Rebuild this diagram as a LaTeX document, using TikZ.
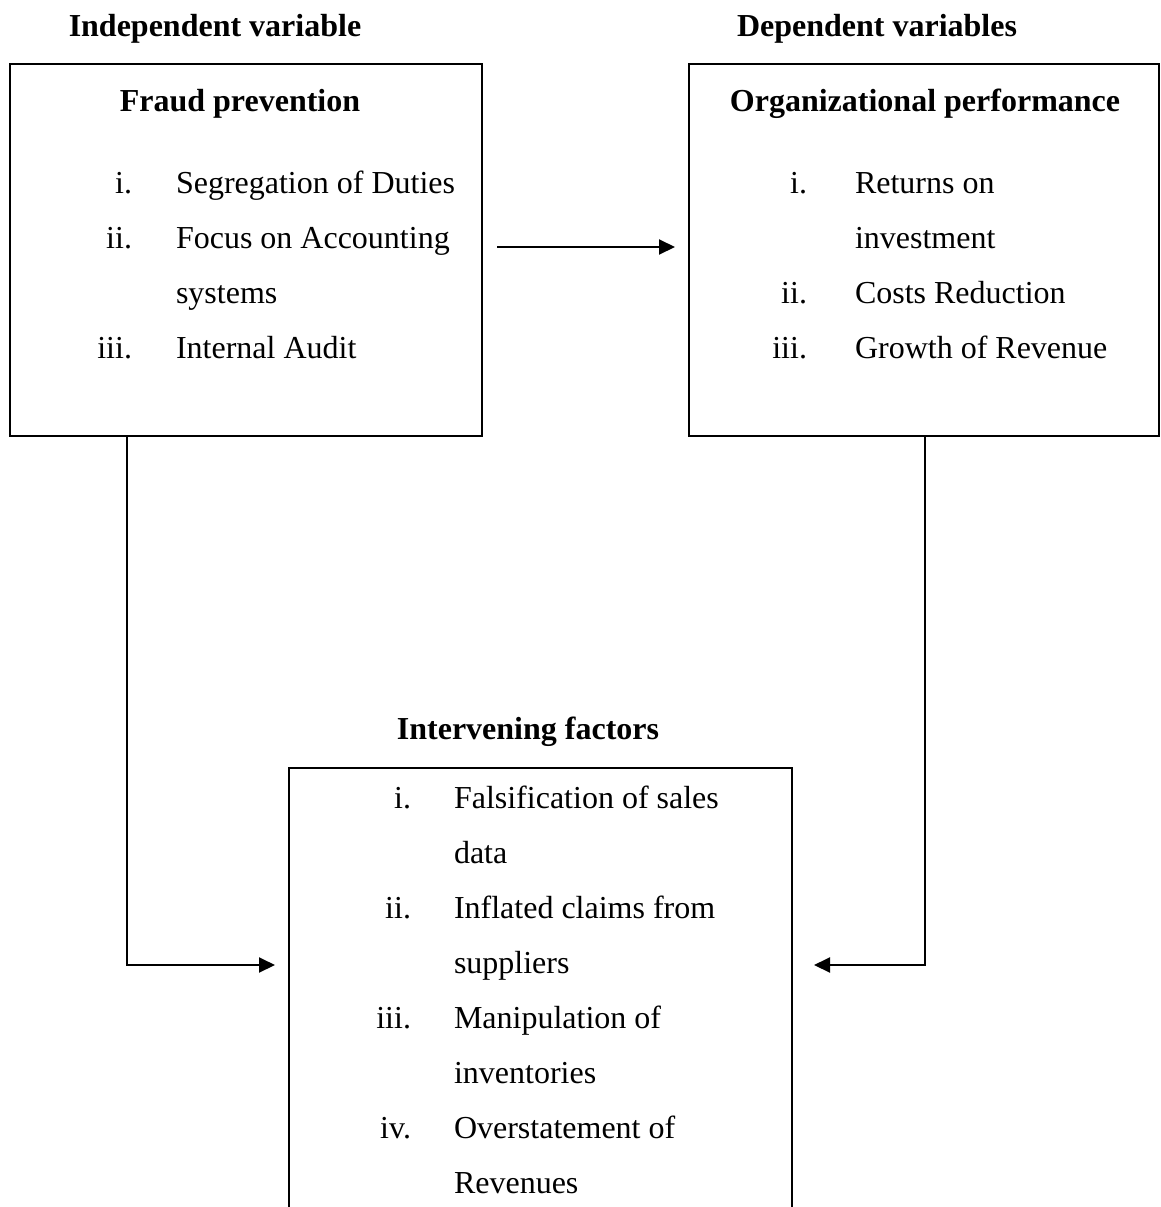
\documentclass[tikz,border=0pt]{standalone}
\usepackage{fontspec}
\setmainfont{Liberation Serif}
\usetikzlibrary{arrows.meta}
\begin{document}
\begin{tikzpicture}[x=1pt,y=-1pt,
  line width=2pt,
  box/.style={draw,line width=2pt,rectangle,inner sep=0pt},
  head/.style={font=\fontsize{32}{38}\selectfont\bfseries,anchor=base,inner sep=0pt},
  num/.style={font=\fontsize{32}{38}\selectfont,anchor=base east,inner sep=0pt},
  itm/.style={font=\fontsize{32}{38}\selectfont,anchor=base west,inner sep=0pt},
  arr/.style={-{Triangle[length=16pt,width=15pt]},line width=2pt}]
\useasboundingbox (0,0) rectangle (1160,1207);
% top headings
\node[head] (hind) at (215,37) {Independent variable};
\node[head] (hdep) at (877,37) {Dependent variables};
% left box
\node[box,minimum width=472pt,minimum height=372pt] (lbox) at (246,250) {};
\node[head] (lt) at (240,111) {Fraud prevention};
\node[num] (l1n) at (133,193) {i.};   \node[itm] (l1) at (175,193) {Segregation of Duties};
\node[num] (l2n) at (133,248) {ii.};  \node[itm] (l2) at (175,248) {Focus on Accounting};
\node[itm] (l2b) at (175,303) {systems};
\node[num] (l3n) at (133,358) {iii.}; \node[itm] (l3) at (175,358) {Internal Audit};
% right box
\node[box,minimum width=470pt,minimum height=372pt] (rbox) at (924,250) {};
\node[head] (rt) at (925,111) {Organizational performance};
\node[num] (r1n) at (808,193) {i.};   \node[itm] (r1) at (854,193) {Returns on};
\node[itm] (r1b) at (854,248) {investment};
\node[num] (r2n) at (808,303) {ii.};  \node[itm] (r2) at (854,303) {Costs Reduction};
\node[num] (r3n) at (808,358) {iii.}; \node[itm] (r3) at (854,358) {Growth of Revenue};
% horizontal arrow between boxes
\draw[arr] ([xshift=14pt,yshift=3pt]lbox.east) -- ([xshift=-13pt,yshift=3pt]rbox.west);
% bottom box (cut off at the bottom edge)
\draw (289,1208) -- (289,768) -- (792,768) -- (792,1208);
\coordinate (ibl) at (275,965);
\coordinate (ibr) at (814,965);
\node[head] (it) at (528,739) {Intervening factors};
\node[num] (b1n) at (412,808) {i.};   \node[itm] (b1) at (453,808) {Falsification of sales};
\node[itm] (b1b) at (453,863) {data};
\node[num] (b2n) at (412,918) {ii.};  \node[itm] (b2) at (453,918) {Inflated claims from};
\node[itm] (b2b) at (453,973) {suppliers};
\node[num] (b3n) at (412,1028) {iii.}; \node[itm] (b3) at (453,1028) {Manipulation of};
\node[itm] (b3b) at (453,1083) {inventories};
\node[num] (b4n) at (412,1138) {iv.}; \node[itm] (b4) at (453,1138) {Overstatement of};
\node[itm] (b4b) at (453,1193) {Revenues};
% connectors down to the intervening box
\draw[arr] ([xshift=118pt]lbox.south west) |- (ibl);
\draw[arr] ([xshift=-235pt]rbox.south east) |- (ibr);
\end{tikzpicture}
\end{document}
